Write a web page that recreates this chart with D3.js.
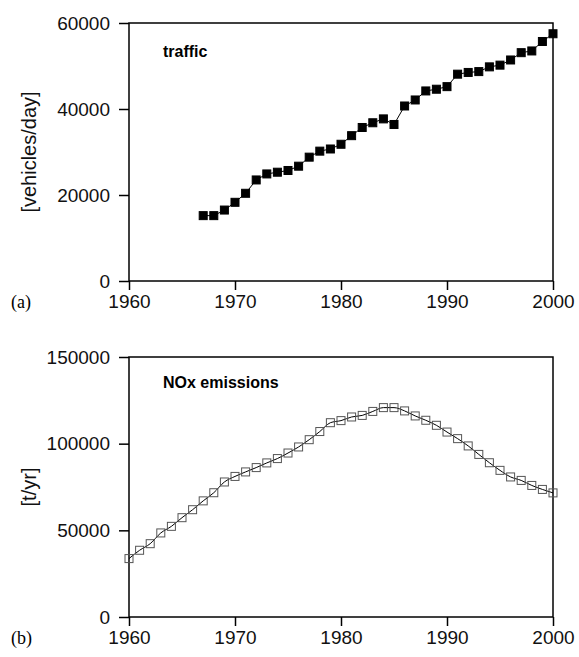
<!DOCTYPE html>
<html>
<head>
<meta charset="utf-8">
<script src="https://cdn.jsdelivr.net/npm/d3@7/dist/d3.min.js"></script>
<style>
  body { margin: 0; background: #fff; }
  text { font-family: 'Liberation Sans', Arial, sans-serif; }
</style>
</head>
<body>
<script>
// panel (a): traffic
const trafficYears = [1967, 1968, 1969, 1970, 1971, 1972, 1973, 1974, 1975, 1976, 1977, 1978,
  1979, 1980, 1981, 1982, 1983, 1984, 1985, 1986, 1987, 1988, 1989, 1990, 1991, 1992,
  1993, 1994, 1995, 1996, 1997, 1998, 1999, 2000]
const trafficValues = [15200, 15200, 16500, 18300, 20400, 23500, 24900, 25300, 25700, 26700, 28800, 30200,
  30700, 31800, 33800, 35700, 36800, 37700, 36400, 40700, 42100, 44200, 44600, 45200, 48100, 48500,
  48700, 49800, 50200, 51400, 53100, 53500, 55700, 57500]

// panel (b): NOx emissions
const noxYears = [1960, 1961, 1962, 1963, 1964, 1965, 1966, 1967, 1968, 1969, 1970, 1971, 1972, 1973,
  1974, 1975, 1976, 1977, 1978, 1979, 1980, 1981, 1982, 1983, 1984, 1985, 1986, 1987, 1988, 1989,
  1990, 1991, 1992, 1993, 1994, 1995, 1996, 1997, 1998, 1999, 2000]
const noxValues = [33700, 38500, 42300, 48500, 52300, 57300, 61900, 67000, 71700, 77900, 81100, 83700, 86200, 88900,
  91400, 94600, 98100, 102300, 107000, 112100, 113300, 115400, 116300, 118600, 120800, 120800, 118900, 116000, 113500, 110600,
  106700, 102900, 98700, 93800, 89000, 84600, 80800, 78800, 75900, 73600, 71600]

const xTicks = [1960, 1970, 1980, 1990, 2000]
const trafficTicks = [0, 20000, 40000, 60000]
const noxTicks = [0, 50000, 100000, 150000]

let svg = d3
  .select('body')
  .append('svg')
  .attr('width', 579)
  .attr('height', 657)

const left = 129
const right = 553

function panel(opts) {
  let x = d3.scaleLinear().domain([1960, 2000]).range([left, right])
  let y = d3.scaleLinear().domain([0, opts.max]).range([opts.bottom, opts.top])
  let g = svg.append('g')

  g.append('rect')
    .attr('x', left)
    .attr('y', opts.top)
    .attr('width', right - left)
    .attr('height', opts.bottom - opts.top)
    .attr('fill', 'none')
    .attr('stroke', '#000')
    .attr('stroke-width', 1.5)

  let xAxis = g.append('g')
    .attr('transform', `translate(0,${opts.bottom})`)
    .call(d3.axisBottom(x).tickValues(xTicks).tickFormat(d3.format('d')).tickSize(9).tickPadding(5))
  let yAxis = g.append('g')
    .attr('transform', `translate(${left},0)`)
    .call(d3.axisLeft(y).tickValues(opts.ticks).tickFormat(d3.format('d')).tickSize(10).tickPadding(9))

  for (let a of [xAxis, yAxis]) {
    a.select('.domain').remove()
    a.selectAll('line').attr('stroke', '#000').attr('stroke-width', 1.5)
    a.selectAll('text')
      .attr('fill', '#111')
      .style('font-size', '19px')
      .style('font-family', "'Liberation Sans', Arial, sans-serif")
  }

  g.append('text')
    .attr('transform', `translate(36,${(opts.top + opts.bottom) / 2}) rotate(-90)`)
    .attr('text-anchor', 'middle')
    .style('font-size', '20px')
    .attr('fill', '#111')
    .text(opts.label)

  g.append('text')
    .attr('x', 11)
    .attr('y', opts.bottom + 27)
    .style('font-family', "'Liberation Serif', 'Times New Roman', serif")
    .style('font-size', '18px')
    .text(opts.tag)

  g.append('text')
    .attr('x', 163)
    .attr('y', opts.titleY)
    .style('font-size', '16px')
    .style('font-weight', 'bold')
    .text(opts.title)

  let data = opts.years.map((yr, i) => ({ yr: yr, v: opts.values[i] }))

  g.append('path')
    .datum(data)
    .attr('fill', 'none')
    .attr('stroke', '#000')
    .attr('stroke-width', 1)
    .attr('d', d3.line().x(d => x(d.yr)).y(d => y(d.v)).curve(opts.curve))

  g.selectAll('rect.pt')
    .data(data)
    .join('rect')
    .attr('class', 'pt')
    .attr('x', d => x(d.yr) - opts.size / 2)
    .attr('y', d => y(d.v) - opts.size / 2)
    .attr('width', opts.size)
    .attr('height', opts.size)
    .attr('fill', opts.fill)
    .attr('stroke', opts.stroke)
    .attr('stroke-width', 1)
}

panel({
  top: 23, bottom: 281, max: 60000, ticks: trafficTicks,
  years: trafficYears, values: trafficValues,
  label: '[vehicles/day]', tag: '(a)', title: 'traffic', titleY: 57,
  size: 8, fill: '#000', stroke: '#000', curve: d3.curveLinear
})

panel({
  top: 357, bottom: 617, max: 150000, ticks: noxTicks,
  years: noxYears, values: noxValues,
  label: '[t/yr]', tag: '(b)', title: 'NOx emissions', titleY: 388,
  size: 8, fill: 'none', stroke: '#555', curve: d3.curveMonotoneX
})
</script>
</body>
</html>
